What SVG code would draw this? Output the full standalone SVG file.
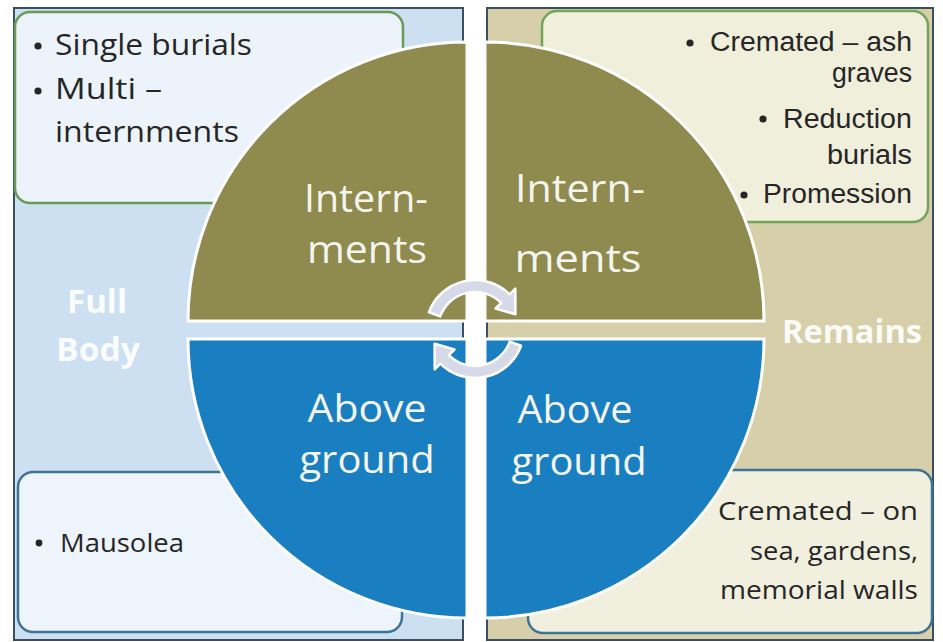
<svg xmlns="http://www.w3.org/2000/svg" width="943" height="642" viewBox="0 0 943 642">
<style>
  .panelL{fill:#cde0f2;stroke:#3b4f60;stroke-width:2}
  .panelR{fill:#d6cfa9;stroke:#3b4f60;stroke-width:2}
  .boxTL{fill:#edf3fa;stroke:#6a9a58;stroke-width:2.5}
  .boxTR{fill:#f0efdc;stroke:#74a35a;stroke-width:2.5}
  .boxBL{fill:#eef4fb;stroke:#3e7396;stroke-width:2.5}
  .boxBR{fill:#f1f0df;stroke:#3e7396;stroke-width:2.5}
  .olive{fill:#8f8a4e;stroke:#ffffff;stroke-width:3}
  .blue{fill:#1a7fc1;stroke:#ffffff;stroke-width:3}
  .t{font-family:"Open Sans","Liberation Sans",sans-serif;fill:#262626}
  .tr{font-family:"Liberation Sans",Arial,sans-serif;fill:#262626;font-size:27px;text-anchor:end}
  .q{font-family:"Open Sans","Liberation Sans",sans-serif;fill:#f4f6ee;font-size:38px;text-anchor:middle}
  .side{font-family:"Open Sans","Liberation Sans",sans-serif;fill:#ffffff;font-weight:bold;font-size:32px;text-anchor:middle;opacity:0.92}
  .b{fill:#262626}
  .arrow{fill:#d6d9e7;stroke:#ffffff;stroke-width:2.5;stroke-linejoin:round}
</style>
<rect width="943" height="642" fill="#ffffff"/>
<g id="panel-full-body">
  <rect class="panelL" x="14" y="8" width="449" height="632"/>
  <text class="side" x="97" y="313" textLength="60" lengthAdjust="spacingAndGlyphs">Full</text>
  <text class="side" x="98" y="361" textLength="84" lengthAdjust="spacingAndGlyphs">Body</text>
</g>
<g id="panel-remains">
  <rect class="panelR" x="487" y="8" width="446" height="632"/>
  <text class="side" x="852" y="343" textLength="140" lengthAdjust="spacingAndGlyphs">Remains</text>
</g>
<g id="box-top-left">
  <rect class="boxTL" x="15" y="12" width="388" height="191" rx="15"/>
  <circle class="b" cx="38" cy="46" r="3.6"/>
  <text class="t" x="55" y="55" font-size="29" textLength="197" lengthAdjust="spacingAndGlyphs">Single burials</text>
  <circle class="b" cx="38" cy="91" r="3.6"/>
  <text class="t" x="55" y="99" font-size="29" textLength="107" lengthAdjust="spacingAndGlyphs">Multi –</text>
  <text class="t" x="55" y="142" font-size="29" textLength="184" lengthAdjust="spacingAndGlyphs">internments</text>
</g>
<g id="box-top-right">
  <rect class="boxTR" x="542" y="11" width="386" height="211" rx="15"/>
  <circle class="b" cx="690" cy="43" r="3.6"/>
  <text class="tr" x="912" y="51" textLength="202" lengthAdjust="spacingAndGlyphs">Cremated – ash</text>
  <text class="tr" x="912" y="82" textLength="80" lengthAdjust="spacingAndGlyphs">graves</text>
  <circle class="b" cx="763" cy="119" r="3.6"/>
  <text class="tr" x="912" y="128" textLength="129" lengthAdjust="spacingAndGlyphs">Reduction</text>
  <text class="tr" x="912" y="164" textLength="85" lengthAdjust="spacingAndGlyphs">burials</text>
  <circle class="b" cx="744" cy="195" r="3.6"/>
  <text class="tr" x="912" y="203" textLength="149" lengthAdjust="spacingAndGlyphs">Promession</text>
</g>
<g id="box-bottom-left">
  <rect class="boxBL" x="18" y="472" width="384" height="160" rx="15"/>
  <circle class="b" cx="39" cy="543" r="3.4"/>
  <text class="t" x="60" y="552" font-size="26" textLength="124" lengthAdjust="spacingAndGlyphs">Mausolea</text>
</g>
<g id="box-bottom-right">
  <rect class="boxBR" x="528" y="470" width="404" height="163" rx="15"/>
  <text class="t" x="918" y="520" font-size="26" text-anchor="end" textLength="200" lengthAdjust="spacingAndGlyphs">Cremated –  on</text>
  <text class="t" x="918" y="560" font-size="26" text-anchor="end" textLength="168" lengthAdjust="spacingAndGlyphs">sea, gardens,</text>
  <text class="t" x="918" y="599" font-size="26" text-anchor="end" textLength="198" lengthAdjust="spacingAndGlyphs">memorial walls</text>
</g>
<g id="quadrant-top-left">
  <path class="olive" d="M467,321 L188,321 A279,279 0 0 1 467,42 Z"/>
  <text class="q" x="366" y="212" textLength="124" lengthAdjust="spacingAndGlyphs">Intern-</text>
  <text class="q" x="367" y="263" textLength="120" lengthAdjust="spacingAndGlyphs">ments</text>
</g>
<g id="quadrant-top-right">
  <path class="olive" d="M485,321 L485,42 A279,279 0 0 1 764,321 Z"/>
  <text class="q" x="580" y="202" textLength="130" lengthAdjust="spacingAndGlyphs">Intern-</text>
  <text class="q" x="578" y="272" textLength="127" lengthAdjust="spacingAndGlyphs">ments</text>
</g>
<g id="quadrant-bottom-left">
  <path class="blue" d="M467,339 L467,618 A279,279 0 0 1 188,339 Z"/>
  <text class="q" x="367" y="422" textLength="119" lengthAdjust="spacingAndGlyphs">Above</text>
  <text class="q" x="367" y="473" textLength="135" lengthAdjust="spacingAndGlyphs">ground</text>
</g>
<g id="quadrant-bottom-right">
  <path class="blue" d="M485,339 L764,339 A279,279 0 0 1 485,618 Z"/>
  <text class="q" x="575" y="423" textLength="115" lengthAdjust="spacingAndGlyphs">Above</text>
  <text class="q" x="579" y="475" textLength="135" lengthAdjust="spacingAndGlyphs">ground</text>
</g>
<g id="connectors">
  <path class="arrow" d="M428.95,312.24 A49,49 0 0 1 509.65,294.35 L515.30,288.70 L515.41,314.29 L495.51,308.49 L501.16,302.84 A37,37 0 0 0 440.23,316.35 Z"/>
  <path class="arrow" transform="rotate(180 475 329)" d="M428.95,312.24 A49,49 0 0 1 509.65,294.35 L515.30,288.70 L515.41,314.29 L495.51,308.49 L501.16,302.84 A37,37 0 0 0 440.23,316.35 Z"/>
</g>
</svg>
